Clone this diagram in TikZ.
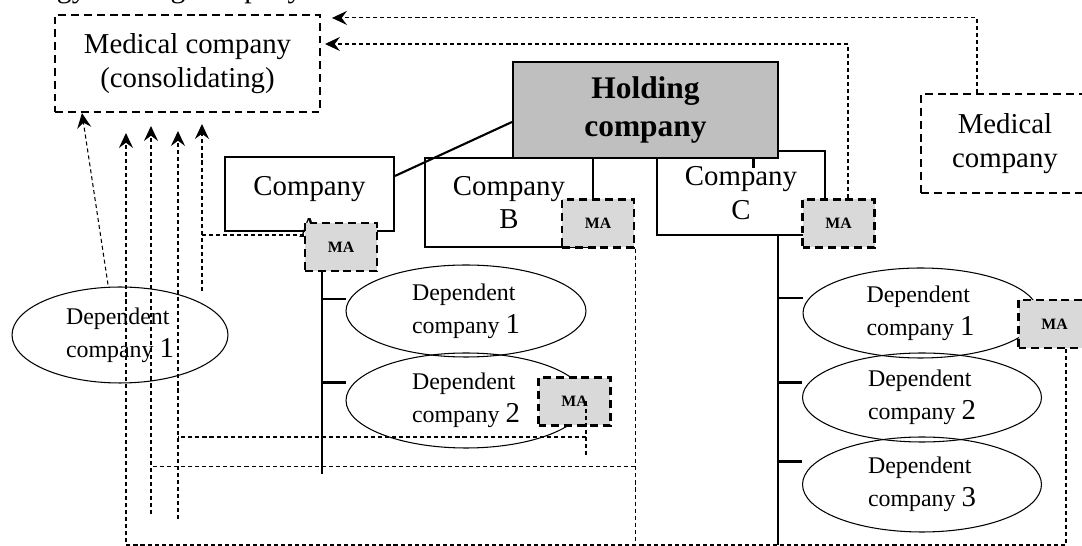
\documentclass[tikz,border=0pt]{standalone}
\usepackage{fontspec}
\setmainfont{Liberation Serif}
\usetikzlibrary{arrows.meta}
\usetikzlibrary{calc}
\usetikzlibrary{shapes.geometric}
\definecolor{hgray}{rgb}{0.75, 0.75, 0.75}
\definecolor{magray}{rgb}{0.85, 0.85, 0.85}
\newcommand{\depno}[1]{{\fontsize{16.4}{19}\selectfont #1}}

\begin{document}
\begin{tikzpicture}[x=0.02cm, y=-0.02cm,
    box/.style={draw, line width=1.2pt, align=center, inner sep=0pt, font=\fontsize{16.4}{19}\selectfont},
    medbox/.style={box, dash pattern=on 4.5pt off 2.8pt},
    mabox/.style={draw, fill=magray, line width=1.2pt, dash pattern=on 4.5pt off 2.8pt, inner sep=0pt,
      minimum width=1.44cm, minimum height=0.96cm, font=\fontsize{9}{10}\selectfont\bfseries},
    dep/.style={draw, ellipse, line width=0.6pt, inner sep=0pt, align=left, font=\fontsize{13.6}{19}\selectfont},
    conn/.style={line width=0.6pt, dash pattern=on 2.3pt off 1.7pt},
    arr/.style={conn, -{Stealth[length=8.5pt, width=8pt, inset=3pt]}},
    tree/.style={line width=1.2pt}]

    \useasboundingbox (0,0) rectangle (1082,546);

    \node [anchor=base west, font=\fontsize{17}{20}\selectfont] (title) at (-60,-2) {Technology holding company};

    \node [medbox, minimum width=5.3cm, minimum height=1.94cm] (medC) at (187.5,63.5) {Medical company\\(consolidating)};
    \node [medbox, minimum width=3.36cm, minimum height=1.98cm] (medR) at (1005,143.5) {Medical\\company};

    % companies
    \node [box, minimum width=3.38cm, minimum height=1.48cm] (compA) at (309.5,194) {};
    \node [align=center, font=\fontsize{16.4}{19}\selectfont] (compAtxt) at ($(compA)+(0,13)$) {Company\\[5pt]A};
    \node [box, minimum width=3.36cm, minimum height=1.78cm] (compB) at (509,202.5) {Company\\B};
    \node [box, minimum width=3.36cm, minimum height=1.68cm] (compC) at (741,193) {Company\\C};
    \node [box, fill=hgray, minimum width=5.3cm, minimum height=1.92cm,
      font=\fontsize{17.9}{21.5}\selectfont\bfseries] (hold) at (645.5,110) {Holding\\company};

    \draw [tree] ($(compA.north east)+(0,20)$) -- ($(hold.west)+(0,12)$);
    \draw [tree] ($(hold.south)+(108,0)$) -- ++(0,9);

    % dependent companies
    \node [dep, minimum width=4.32cm, minimum height=1.92cm] (depL) at (120,335) {Dependent\\company \depno{1}};
    \node [dep, minimum width=4.8cm, minimum height=1.84cm] (depA1) at (466,311) {Dependent\\company \depno{1}};
    \node [dep, minimum width=4.8cm, minimum height=1.9cm] (depA2) at (466,400.5) {Dependent\\company \depno{2}};
    \node [dep, minimum width=4.7cm, minimum height=1.8cm] (depC1) at (920.5,313) {Dependent\\company \depno{1}};
    \node [dep, minimum width=4.78cm, minimum height=1.78cm] (depC2) at (922,397.5) {Dependent\\company \depno{2}};
    \node [dep, minimum width=4.78cm, minimum height=1.9cm] (depC3) at (922,484.5) {Dependent\\company \depno{3}};

    \coordinate (bot) at (0,545);

    % trees
    \coordinate (trA) at ($(compA.south)+(12.5,0)$);
    \draw [tree] (trA) -- ++(0,242);
    \coordinate (brA1) at ($(depA1.west)+(0,-12)$);
    \coordinate (brA2) at ($(depA2.west)+(0,-18)$);
    \draw [tree] (trA |- brA1) -- (brA1);
    \draw [tree] (trA |- brA2) -- (brA2);

    \coordinate (trC) at ($(compC.south)+(37,0)$);
    \draw [tree] (trC) -- (trC |- bot);
    \coordinate (brC1) at ($(depC1.west)+(0,-15)$);
    \coordinate (brC2) at ($(depC2.west)+(0,-15)$);
    \coordinate (brC3) at ($(depC3.west)+(0,-23)$);
    \draw [tree] (trC |- brC1) -- (brC1);
    \draw [tree] (trC |- brC2) -- (brC2);
    \draw [tree] (trC |- brC3) -- (brC3);

    % MA
    \node [mabox] (maA) at (341,247) {MA};
    \node [mabox] (maB) at (598,223.5) {MA};
    \node [mabox] (maC) at (838.5,223.5) {MA};
    \node [mabox] (maD2) at (574.5,401.5) {MA};
    \node [mabox] (maC1) at (1054.5,324) {MA};

    % reporting lines
    \coordinate (tip1) at ($(medC.south west)+(72,20)$);
    \coordinate (tip2) at ($(medC.south west)+(97,13)$);
    \coordinate (tip3) at ($(medC.south west)+(124,18)$);
    \coordinate (tip4) at ($(medC.south west)+(148,11)$);

    \draw [arr] ($(medR.north)+(-28,0)$) |- ($(medC.north east)+(11,4)$);
    \draw [arr] ($(maC.north)+(9.5,0)$) |- ($(medC.east)+(4,-19.5)$);
    \draw [arr] ($(depL.north)+(-12,-2)$) -- ($(medC.south west)+(28,0)$);

    \draw [arr] ($(maC1.south)+(11.5,0)$) |- (tip1 |- bot) -- (tip1);

    \coordinate (jB) at ($(maB.south east)+(0,218)$);
    \draw [conn] (maB.south east) -- (maB.south east |- bot);
    \draw [conn] (jB) -- (tip2 |- jB);
    \draw [arr] ($(tip2)+(0,388)$) -- (tip2);

    \coordinate (jD) at ($(maD2)+(11.5,0)$);
    \coordinate (jD2) at ($(jD)+(0,35.5)$);
    \draw [conn] (jD) -- ++(0,54);
    \draw [conn] (jD2) -- (tip3 |- jD2);
    \draw [arr] ($(tip3)+(0,388)$) -- (tip3);

    \coordinate (jA) at ($(maA.west)+(0,-12)$);
    \draw [conn] (jA) -- (tip4 |- jA);
    \draw [arr] ($(tip4)+(0,167)$) -- (tip4);
  \end{tikzpicture}
\end{document}
